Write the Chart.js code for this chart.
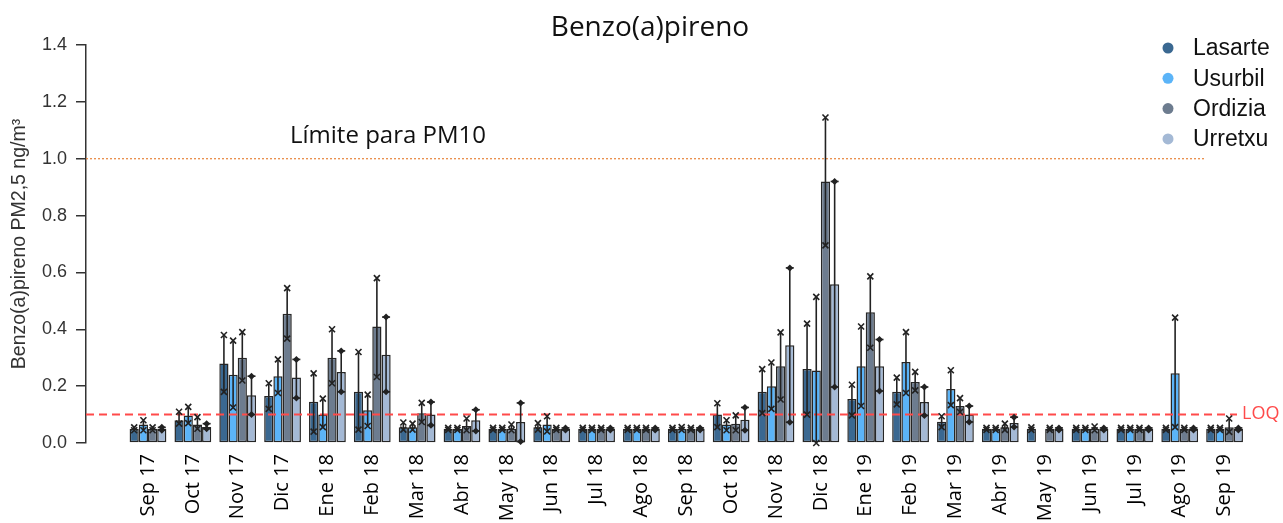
<!DOCTYPE html>
<html>
<head>
<meta charset="utf-8">
<title>Benzo(a)pireno</title>
<script src="https://cdn.jsdelivr.net/npm/chart.js@4/dist/chart.umd.min.js"></script>
<style>
  html, body { margin: 0; padding: 0; background: #ffffff; }
  #wrap { width: 1283px; height: 523px; position: relative; }
  canvas { display: block; }
</style>
</head>
<body>
<div id="wrap"><canvas id="chart" width="1283" height="523"></canvas></div>
<script>
// Monthly campaigns (x axis)
const months = ['Sep 17','Oct 17','Nov 17','Dic 17','Ene 18','Feb 18','Mar 18','Abr 18','May 18',
  'Jun 18','Jul 18','Ago 18','Sep 18','Oct 18','Nov 18','Dic 18','Ene 19','Feb 19','Mar 19',
  'Abr 19','May 19','Jun 19','Jul 19','Ago 19','Sep 19'];

// Monthly mean B(a)P in PM2.5 (ng/m³) and the min / max of the individual samples
const lasarte    = [0.05,0.08,0.28,0.165,0.145,0.18,0.055,0.05,0.05,0.055,0.05,0.05,0.05,0.10,0.18,0.26,0.155,0.18,0.075,0.05,0.05,0.05,0.05,0.05,0.05];
const lasarteMin = [0.045,0.068,0.18,0.12,0.04,0.047,0.047,0.046,0.046,0.047,0.046,0.046,0.046,0.056,0.105,0.10,0.097,0.136,0.056,0.046,0.046,0.046,0.046,0.046,0.046];
const lasarteMax = [0.055,0.11,0.38,0.21,0.245,0.32,0.072,0.053,0.053,0.07,0.053,0.053,0.053,0.14,0.26,0.42,0.205,0.23,0.094,0.053,0.055,0.053,0.053,0.053,0.053];

const usurbil    = [0.065,0.097,0.24,0.235,0.10,0.115,0.055,0.05,0.05,0.065,0.05,0.05,0.05,0.065,0.20,0.255,0.27,0.285,0.19,0.05,null,0.05,0.05,0.245,0.05];
const usurbilMin = [0.045,0.07,0.125,0.176,0.056,0.06,0.047,0.046,0.046,0.041,0.046,0.046,0.046,0.045,0.12,0.0,0.13,0.176,0.133,0.046,null,0.046,0.046,0.056,0.046];
const usurbilMax = [0.08,0.127,0.36,0.294,0.156,0.17,0.068,0.053,0.053,0.094,0.053,0.053,0.056,0.08,0.283,0.514,0.41,0.39,0.256,0.053,null,0.053,0.053,0.441,0.053];

const ordizia    = [0.05,0.065,0.30,0.455,0.30,0.41,0.105,0.06,0.05,0.05,0.05,0.05,0.05,0.068,0.27,0.92,0.46,0.215,0.13,0.055,0.05,0.05,0.05,0.05,0.055];
const ordiziaMin = [0.045,0.05,0.22,0.367,0.21,0.232,0.074,0.045,0.045,0.046,0.046,0.046,0.046,0.045,0.153,0.695,0.335,0.185,0.109,0.046,0.046,0.045,0.046,0.046,0.039];
const ordiziaMax = [0.055,0.091,0.39,0.545,0.40,0.58,0.141,0.086,0.065,0.053,0.053,0.053,0.053,0.097,0.389,1.145,0.586,0.25,0.158,0.068,0.053,0.058,0.053,0.053,0.086];

const urretxu    = [0.05,0.056,0.168,0.23,0.25,0.31,0.10,0.08,0.074,0.05,0.05,0.05,0.05,0.082,0.344,0.558,0.27,0.144,0.10,0.07,0.05,0.05,0.05,0.05,0.05];
const urretxuMin = [0.045,0.05,0.10,0.158,0.18,0.18,0.062,0.042,0.005,0.046,0.046,0.046,0.046,0.045,0.073,0.197,0.183,0.097,0.074,0.056,0.046,0.046,0.046,0.046,0.046];
const urretxuMax = [0.055,0.068,0.235,0.294,0.324,0.443,0.144,0.117,0.141,0.053,0.053,0.053,0.053,0.125,0.616,0.92,0.364,0.197,0.13,0.091,0.053,0.053,0.053,0.053,0.053];

// Reference levels
const LOQ = 0.1;          // limit of quantification
const LIMIT_PM10 = 1.0;   // target value for PM10

// Y axis ticks
const yTicks = [0, 0.2, 0.4, 0.6, 0.8, 1.0, 1.2, 1.4];

const series = [
  { name: 'Lasarte', values: lasarte, low: lasarteMin, high: lasarteMax, color: '#3a6891', marker: 'x' },
  { name: 'Usurbil', values: usurbil, low: usurbilMin, high: usurbilMax, color: '#5bb4f8', marker: 'x' },
  { name: 'Ordizia', values: ordizia, low: ordiziaMin, high: ordiziaMax, color: '#6d7c8f', marker: 'x' },
  { name: 'Urretxu', values: urretxu, low: urretxuMin, high: urretxuMax, color: '#a4b9d5', marker: 'd' }
];

// Min-max range lines with end markers on every bar, plus reference lines and labels
const rangePlugin = {
  id: 'rangeBars',
  beforeDatasetsDraw(chart) {
    const ctx = chart.ctx;
    const y = chart.scales.y;
    ctx.save();
    // PM10 limit dotted line
    const yp = y.getPixelForValue(LIMIT_PM10);
    ctx.strokeStyle = '#e8843a';
    ctx.lineWidth = 1.2;
    ctx.setLineDash([2, 2]);
    ctx.beginPath();
    ctx.moveTo(chart.chartArea.left, yp);
    ctx.lineTo(1205, yp);
    ctx.stroke();
    ctx.restore();
  },
  afterDatasetsDraw(chart) {
    const ctx = chart.ctx;
    const y = chart.scales.y;
    ctx.save();
    // LOQ dashed line, drawn over the bars
    const yl = y.getPixelForValue(LOQ);
    ctx.strokeStyle = '#ff4a4a';
    ctx.lineWidth = 2;
    ctx.setLineDash([8, 5]);
    ctx.beginPath();
    ctx.moveTo(chart.chartArea.left, yl);
    ctx.lineTo(1237, yl);
    ctx.stroke();
    ctx.setLineDash([]);

    chart.data.datasets.forEach((ds, di) => {
      const s = series[di];
      const meta = chart.getDatasetMeta(di);
      meta.data.forEach((bar, i) => {
        const lo = s.low[i], hi = s.high[i];
        if (lo == null || hi == null || s.values[i] == null) return;
        const x = bar.x;
        const y1 = y.getPixelForValue(lo);
        const y2 = y.getPixelForValue(hi);
        ctx.strokeStyle = '#222222';
        ctx.fillStyle = '#222222';
        ctx.lineWidth = 1.6;
        ctx.beginPath();
        ctx.moveTo(x, y1);
        ctx.lineTo(x, y2);
        ctx.stroke();
        [y1, y2].forEach(py => {
          if (s.marker === 'd') {
            ctx.beginPath();
            ctx.moveTo(x, py - 3.5);
            ctx.lineTo(x + 3.5, py);
            ctx.lineTo(x, py + 3.5);
            ctx.lineTo(x - 3.5, py);
            ctx.closePath();
            ctx.fill();
            ctx.beginPath();
            ctx.moveTo(x - 4, py);
            ctx.lineTo(x + 4, py);
            ctx.stroke();
          } else {
            ctx.beginPath();
            ctx.moveTo(x - 3, py - 3);
            ctx.lineTo(x + 3, py + 3);
            ctx.moveTo(x + 3, py - 3);
            ctx.lineTo(x - 3, py + 3);
            ctx.stroke();
          }
        });
      });
    });
    ctx.restore();
  },
  afterDraw(chart) {
    const ctx = chart.ctx;
    const y = chart.scales.y;
    ctx.save();
    // Title
    ctx.fillStyle = '#111111';
    ctx.font = '28px "Open Sans"';
    ctx.textAlign = 'center';
    ctx.textBaseline = 'middle';
    ctx.fillText('Benzo(a)pireno', 650, 28);
    // Limit label
    ctx.font = '24px "Open Sans"';
    ctx.textAlign = 'left';
    ctx.fillText('Límite para PM10', 290, y.getPixelForValue(LIMIT_PM10) - 23);
    // LOQ label
    ctx.fillStyle = '#ff4a4a';
    ctx.font = '18px "Open Sans"';
    ctx.fillText('LOQ', 1242, y.getPixelForValue(LOQ) - 1);
    // Legend
    ctx.font = '23px "Liberation Sans"';
    ctx.textBaseline = 'middle';
    series.forEach((s, i) => {
      const cy = 48 + i * 30.3;
      ctx.fillStyle = s.color;
      ctx.beginPath();
      ctx.arc(1168, cy, 5.5, 0, Math.PI * 2);
      ctx.fill();
      ctx.fillStyle = '#111111';
      ctx.fillText(s.name, 1193, cy + 1);
    });
    ctx.restore();
  }
};

new Chart(document.getElementById('chart'), {
  type: 'bar',
  data: {
    datasets: series.map(s => ({
      label: s.name,
      data: s.values.map((v, i) => ({ x: i, y: v })),
      backgroundColor: s.color,
      borderColor: '#262626',
      borderWidth: 1.5,
      borderSkipped: false,
      categoryPercentage: 0.82,
      barPercentage: 1.0
    }))
  },
  options: {
    responsive: false,
    animation: false,
    devicePixelRatio: 1,
    layout: { padding: { top: 45, right: 36, bottom: 0, left: 0 } },
    plugins: {
      legend: { display: false },
      title: { display: false },
      tooltip: { enabled: false }
    },
    scales: {
      x: {
        type: 'linear',
        offset: false,
        min: -1.382,
        max: 24.5,
        grid: { display: false, drawTicks: false },
        border: { display: false },
        afterBuildTicks: scale => { scale.ticks = months.map((_, i) => ({ value: i })); },
        afterFit: scale => { scale.height = 80; },
        ticks: {
          autoSkip: false,
          maxRotation: 90,
          minRotation: 90,
          padding: 11,
          color: '#000000',
          font: { family: '"Open Sans"', size: 20 },
          callback: v => months[v]
        }
      },
      y: {
        min: 0,
        max: 1.4,
        afterBuildTicks: scale => { scale.ticks = yTicks.map(v => ({ value: v })); },
        afterFit: scale => { scale.width = 86; },
        grid: { drawOnChartArea: false, drawTicks: true, tickLength: 10, color: '#333333', lineWidth: 1.5 },
        border: { display: true, color: '#333333', width: 1.5 },
        ticks: {
          padding: 9,
          color: '#333333',
          font: { family: '"Liberation Sans"', size: 18 },
          callback: v => Number(v).toFixed(1)
        },
        title: {
          display: true,
          text: 'Benzo(a)pireno PM2,5 ng/m³',
          color: '#333333',
          font: { family: '"Liberation Sans"', size: 19.5 },
          padding: { top: 8, bottom: 0 }
        }
      }
    }
  },
  plugins: [rangePlugin]
});
</script>
</body>
</html>
